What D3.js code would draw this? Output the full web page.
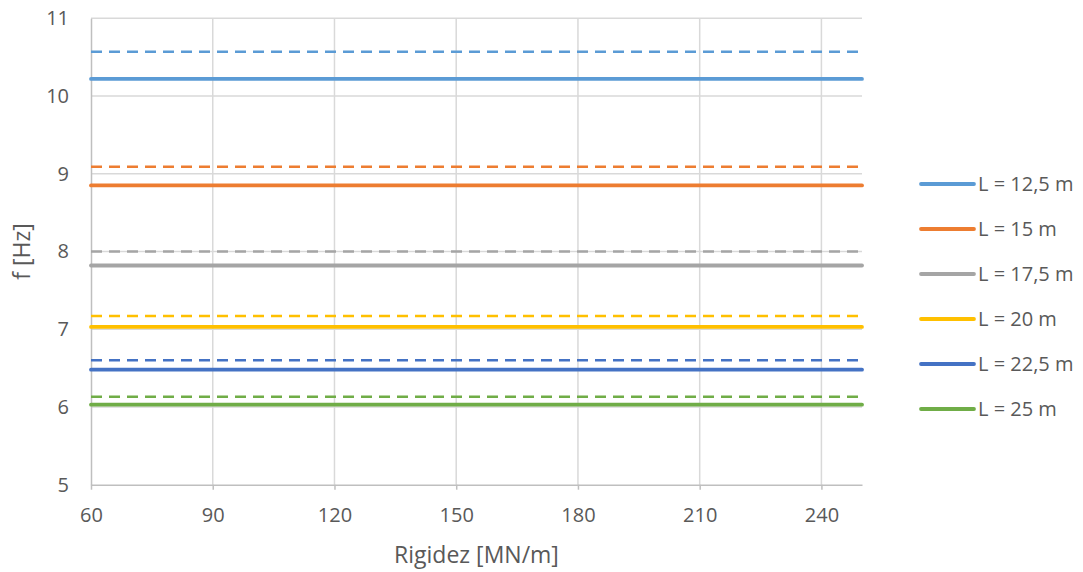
<!DOCTYPE html>
<html>
<head>
<meta charset="utf-8">
<script src="https://cdn.jsdelivr.net/npm/d3@7"></script>
<style>
  body { margin: 0; background: #fff; }
  text { font-family: "Open Sans", "Noto Sans", sans-serif; fill: #595959; }
</style>
</head>
<body>
<svg id="chart" width="1083" height="572"></svg>
<script>
// ---- data ----
const stiffness = [60, 250];
const xTicks = [60, 90, 120, 150, 180, 210, 240];
const yTicks = [5, 6, 7, 8, 9, 10, 11];
const seriesNames = ["L = 12,5 m", "L = 15 m", "L = 17,5 m", "L = 20 m", "L = 22,5 m", "L = 25 m"];
const seriesColors = ["#5B9BD5", "#ED7D31", "#A5A5A5", "#FFC000", "#4472C4", "#70AD47"];
const solidL125 = [10.22, 10.22];
const solidL15  = [8.85, 8.85];
const solidL175 = [7.82, 7.82];
const solidL20  = [7.03, 7.03];
const solidL225 = [6.48, 6.48];
const solidL25  = [6.03, 6.03];
const dashL125 = [10.57, 10.57];
const dashL15  = [9.09, 9.09];
const dashL175 = [8.00, 8.00];
const dashL20  = [7.17, 7.17];
const dashL225 = [6.60, 6.60];
const dashL25  = [6.13, 6.13];
const solidSeries = [solidL125, solidL15, solidL175, solidL20, solidL225, solidL25];
const dashSeries = [dashL125, dashL15, dashL175, dashL20, dashL225, dashL25];

// ---- layout ----
const svg = d3.select("#chart");
const pLeft = 91, pRight = 862, pTop = 18.3, pBottom = 484.7;
const x = d3.scaleLinear().domain([60, 250]).range([pLeft, pRight]);
const y = d3.scaleLinear().domain([5, 11]).range([pBottom, pTop]);

// gridlines
svg.append("g").selectAll("line").data(yTicks.filter(d => d !== 5)).join("line")
  .attr("x1", pLeft).attr("x2", pRight)
  .attr("y1", d => y(d)).attr("y2", d => y(d))
  .attr("stroke", "#d9d9d9").attr("stroke-width", 1.5);
svg.append("g").selectAll("line").data(xTicks.filter(d => d !== 60)).join("line")
  .attr("x1", d => x(d)).attr("x2", d => x(d))
  .attr("y1", pTop).attr("y2", pBottom)
  .attr("stroke", "#d9d9d9").attr("stroke-width", 1.5);

// axes
const xAxis = svg.append("g").attr("transform", `translate(0,${pBottom})`)
  .call(d3.axisBottom(x).tickValues(xTicks).tickFormat(d3.format("d")).tickSize(5).tickSizeOuter(0).tickPadding(18));
xAxis.select(".domain").attr("stroke", "#bfbfbf").attr("stroke-width", 1.5);
xAxis.selectAll(".tick line").attr("stroke", "#bfbfbf").attr("stroke-width", 1.5);
xAxis.selectAll(".tick text").attr("font-size", 20).attr("fill", "#595959")
  .style("font-family", "'Open Sans', sans-serif");

const yAxis = svg.append("g").attr("transform", `translate(${pLeft},0)`)
  .call(d3.axisLeft(y).tickValues(yTicks).tickFormat(d3.format("d")).tickSize(0).tickPadding(22));
yAxis.select(".domain").attr("stroke", "#bfbfbf").attr("stroke-width", 1.5);
yAxis.selectAll(".tick text").attr("font-size", 20).attr("fill", "#595959")
  .style("font-family", "'Open Sans', sans-serif");

// series
const line = d3.line().x((d, i) => x(stiffness[i])).y(d => y(d));
svg.append("g").selectAll("path").data(dashSeries).join("path")
  .attr("d", d => line(d))
  .attr("fill", "none")
  .attr("stroke", (d, i) => seriesColors[i])
  .attr("stroke-width", 2.5)
  .attr("stroke-dasharray", "11,7");
svg.append("g").selectAll("path").data(solidSeries).join("path")
  .attr("d", d => line(d))
  .attr("fill", "none")
  .attr("stroke", (d, i) => seriesColors[i])
  .attr("stroke-width", 3.8)
  .attr("stroke-linecap", "round");

// axis titles
svg.append("text").attr("x", (pLeft + pRight) / 2).attr("y", 563)
  .attr("text-anchor", "middle").attr("font-size", 23).text("Rigidez [MN/m]");
svg.append("text").attr("transform", `translate(22,${(pTop + pBottom) / 2}) rotate(-90)`)
  .attr("text-anchor", "middle").attr("dy", "0.35em").attr("font-size", 23).text("f [Hz]");

// legend
const lg = svg.append("g").selectAll("g").data(seriesNames).join("g")
  .attr("transform", (d, i) => `translate(921,${184 + i * 45})`);
lg.append("line").attr("x1", 0).attr("x2", 53).attr("y1", 0).attr("y2", 0)
  .attr("stroke", (d, i) => seriesColors[i]).attr("stroke-width", 3.8).attr("stroke-linecap", "round");
lg.append("text").attr("x", 57).attr("y", 0).attr("dy", "0.35em")
  .attr("font-size", 20).text(d => d);
</script>
</body>
</html>
